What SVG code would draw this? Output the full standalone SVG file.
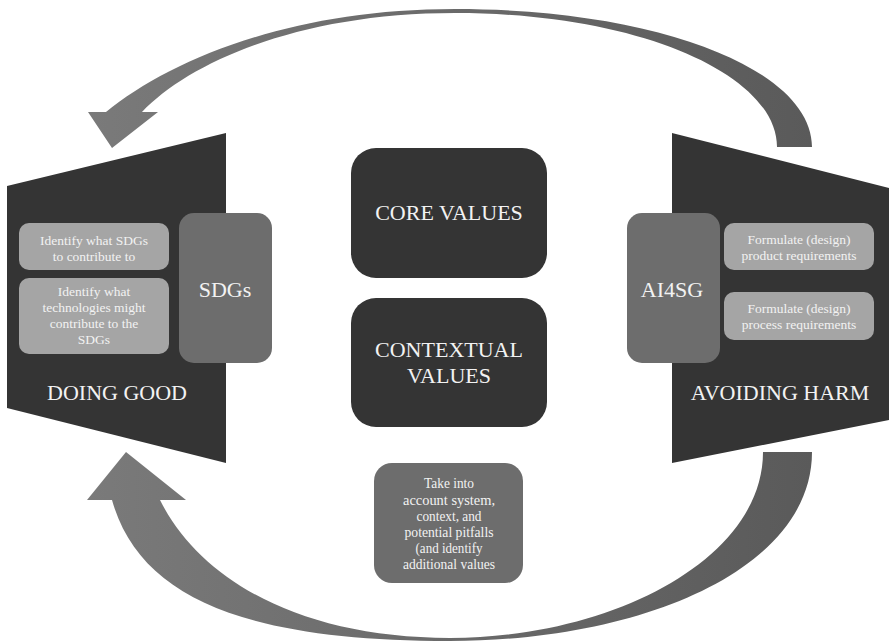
<svg xmlns="http://www.w3.org/2000/svg" width="889" height="643" viewBox="0 0 889 643">
<defs>
<linearGradient id="ag" x1="0" y1="0" x2="1" y2="0">
<stop offset="0" stop-color="#7a7a7a"/>
<stop offset="1" stop-color="#5a5a5a"/>
</linearGradient>
<style>
.dark{fill:#343434}
.mid{fill:#6d6d6d}
.light{fill:#a5a5a5}
.t{font-family:"Liberation Serif","Times New Roman",serif;fill:#f2f2f2;text-anchor:middle}
.s{font-size:13.5px}
.b{font-size:22px}
.c{font-size:22px}
.n{font-size:14.5px}
</style>
</defs>
<rect width="889" height="643" fill="#ffffff"/>
<g id="connectors">
<path fill="url(#ag)" d="M 812,147 C 812,70 660,9 455,9 C 290,9 170,60 106,112 L 88,112 L 112,148 L 158,112 L 142,112 C 190,62 300,13 455,13 C 640,13 777,75 777,147 Z"/>
<path fill="url(#ag)" d="M 812,452 C 812,570 640,641 450,641 C 250,641 140,600 112,500 L 87,500 L 126,452 L 186,500 L 160,500 C 200,580 300,638 450,638 C 610,638 763,560 763,452 Z"/>
</g>
<g id="doing-good">
<polygon class="dark" points="7,186 226,133 226,463 7,408"/>
<text class="t b" x="117" y="400">DOING GOOD</text>
</g>
<g id="identify-sdgs">
<rect class="light" x="19" y="223" width="150" height="47" rx="10"/>
<text class="t s" x="94" y="245">Identify what SDGs</text>
<text class="t s" x="94" y="261">to contribute to</text>
</g>
<g id="identify-tech">
<rect class="light" x="19" y="278" width="150" height="76" rx="10"/>
<text class="t s" x="94" y="296">Identify what</text>
<text class="t s" x="94" y="312">technologies might</text>
<text class="t s" x="94" y="328">contribute to the</text>
<text class="t s" x="94" y="344">SDGs</text>
</g>
<g id="sdgs">
<rect class="mid" x="179" y="213" width="93" height="150" rx="15"/>
<text class="t b" x="225" y="297">SDGs</text>
</g>
<g id="avoiding-harm">
<polygon class="dark" points="672,133 889,188 889,420 672,463"/>
<text class="t b" x="780" y="400">AVOIDING HARM</text>
</g>
<g id="ai4sg">
<rect class="mid" x="627" y="213" width="93" height="150" rx="15"/>
<text class="t b" x="672" y="297">AI4SG</text>
</g>
<g id="product-req">
<rect class="light" x="724" y="223" width="150" height="47" rx="10"/>
<text class="t s" x="799" y="244">Formulate (design)</text>
<text class="t s" x="799" y="260">product requirements</text>
</g>
<g id="process-req">
<rect class="light" x="724" y="292" width="150" height="48" rx="10"/>
<text class="t s" x="799" y="313">Formulate (design)</text>
<text class="t s" x="799" y="329">process requirements</text>
</g>
<g id="core-values">
<rect class="dark" x="351" y="148" width="196" height="130" rx="25"/>
<text class="t c" x="449" y="220">CORE VALUES</text>
</g>
<g id="contextual-values">
<rect class="dark" x="351" y="298" width="196" height="129" rx="25"/>
<text class="t c" x="449" y="357">CONTEXTUAL</text>
<text class="t c" x="449" y="383">VALUES</text>
</g>
<g id="take-into-account">
<rect class="mid" x="374" y="463" width="149" height="120" rx="18"/>
<text class="t n" x="449" y="488" textLength="50" lengthAdjust="spacingAndGlyphs">Take into</text>
<text class="t n" x="449" y="505" textLength="92" lengthAdjust="spacingAndGlyphs">account system,</text>
<text class="t n" x="449" y="521" textLength="65" lengthAdjust="spacingAndGlyphs">context, and</text>
<text class="t n" x="449" y="537" textLength="89" lengthAdjust="spacingAndGlyphs">potential pitfalls</text>
<text class="t n" x="449" y="553" textLength="67" lengthAdjust="spacingAndGlyphs">(and identify</text>
<text class="t n" x="449" y="569" textLength="92" lengthAdjust="spacingAndGlyphs">additional values</text>
</g>
</svg>
